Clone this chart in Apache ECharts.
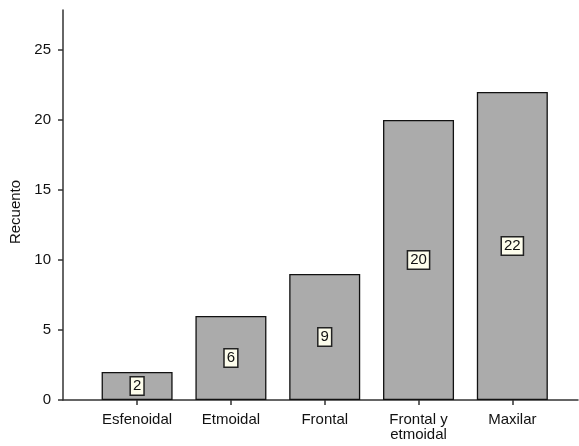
<!DOCTYPE html>
<html>
<head>
<meta charset="utf-8">
<script src="https://cdn.jsdelivr.net/npm/echarts@6/dist/echarts.min.js"></script>
<style>html,body{margin:0;padding:0;background:#fff}#c{width:579px;height:446px}</style>
</head>
<body>
<div id="c"></div>
<script>
const categories = ['Esfenoidal', 'Etmoidal', 'Frontal', 'Frontal y\netmoidal', 'Maxilar'];
const counts = [2, 6, 9, 20, 22];
const positions = [1, 2, 3, 4, 5];
const yTicks = [0, 5, 10, 15, 20, 25];

const font = 'Liberation Sans, Arial, Helvetica, sans-serif';
const chart = echarts.init(document.getElementById('c'));
chart.setOption({
  animation: false,
  grid: { left: 63, right: 1, top: 10, bottom: 46, containLabel: false },
  xAxis: {
    type: 'value', min: 0.21, max: 5.70,
    axisLine: { show: true, lineStyle: { color: '#333', width: 1.5 } },
    axisTick: { show: true, customValues: positions, length: 5, lineStyle: { color: '#333', width: 1.5 } },
    axisLabel: {
      customValues: positions, color: '#111', fontSize: 15, fontFamily: font, margin: 12, lineHeight: 15,
      formatter: v => categories[Math.round(v) - 1] || ''
    },
    splitLine: { show: false }
  },
  yAxis: {
    type: 'value', min: 0, max: 27.86, interval: 5,
    axisLine: { show: true, lineStyle: { color: '#333', width: 1.5 } },
    axisTick: { show: true, customValues: yTicks, length: 5, lineStyle: { color: '#333', width: 1.5 } },
    axisLabel: { customValues: yTicks, color: '#111', fontSize: 15, fontFamily: font, margin: 12 },
    splitLine: { show: false }
  },
  graphic: [{
    type: 'text', x: 16, y: 212, rotation: Math.PI / 2,
    style: { text: 'Recuento', fill: '#111', fontSize: 15, fontFamily: font, align: 'center', verticalAlign: 'middle' }
  }],
  series: [{
    type: 'bar',
    barWidth: 71,
    data: counts.map((v, i) => [positions[i], v]),
    itemStyle: { color: '#ababab', borderColor: '#111', borderWidth: 1.3 },
    label: {
      show: true, position: 'inside', formatter: p => p.value[1],
      color: '#111', fontSize: 15, fontFamily: font, lineHeight: 15,
      backgroundColor: '#fdfdec', borderColor: '#222', borderWidth: 1.5, padding: [1, 2, 1, 2]
    }
  }]
});
</script>
</body>
</html>
